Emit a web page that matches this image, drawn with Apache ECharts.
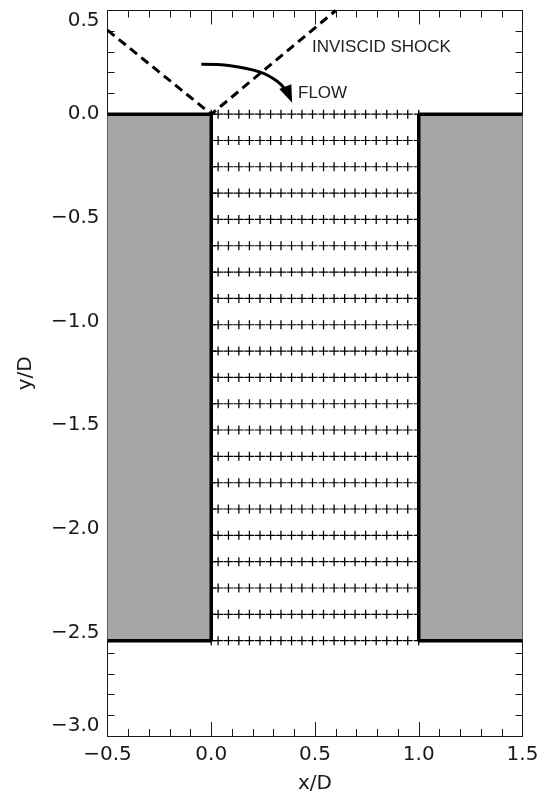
<!DOCTYPE html>
<html><head><meta charset="utf-8">
<style>html,body{margin:0;padding:0;background:#fff}#c{width:542px;height:793px}</style>
<script src="https://cdn.jsdelivr.net/npm/echarts@6/dist/echarts.min.js"></script>
</head><body><div id="c"></div>
<script>
const gridColumns = [0, 0.033, 0.083, 0.133, 0.184, 0.235, 0.286, 0.336, 0.387, 0.437, 0.488, 0.541, 0.592, 0.643, 0.693, 0.744, 0.795, 0.846, 0.897, 0.947, 1];
const gridRows = [0, -0.127, -0.254, -0.381, -0.508, -0.635, -0.762, -0.889, -1.016, -1.143, -1.27, -1.397, -1.524, -1.651, -1.778, -1.905, -2.032, -2.159, -2.286, -2.413, -2.54];
const leftWall = [[-0.5, 0], [0, 0], [0, -2.54], [-0.5, -2.54]];
const rightWall = [[1.5, 0], [1, 0], [1, -2.54], [1.5, -2.54]];
const greyBlocks = [[-0.5, 0, 0, -2.54], [1, 0, 1.5, -2.54]];
const shockLine = [[-0.5, 0.405], [0, 0], [0.6, 0.5]];
const flowCurve = [[-0.048, 0.241], [0.092, 0.234], [0.236, 0.203], [0.318, 0.159], [0.36, 0.115]];
const flowHead = [[0.39, 0.055], [0.328, 0.121], [0.386, 0.144]];
const xRange = [-0.5, 1.5];
const yRange = [-3, 0.5];
const xTitle = 'x/D', yTitle = 'y/D';

const font = 'DejaVu Sans';
const ink = '#1a1a1a';
const gridPoints = [];
gridRows.forEach(y => gridColumns.forEach(x => gridPoints.push([x, y])));

const tickBits = {
  axisLine: {show: true, onZero: false, lineStyle: {color: ink, width: 1}},
  axisTick: {show: true, inside: true, length: 14, lineStyle: {color: ink, width: 1}},
  minorTick: {show: true, splitNumber: 5, length: 7, lineStyle: {color: ink, width: 1}},
  splitLine: {show: false}, minorSplitLine: {show: false}
};
const labelBits = {fontFamily: font, fontSize: 20, color: ink, showMinLabel: true, showMaxLabel: true, hideOverlap: false,
  formatter: v => v.toFixed(1).replace('-', '\u2212')};
const xAxisBase = {type: 'value', min: xRange[0], max: xRange[1], interval: 0.5, ...tickBits};
const yAxisBase = {type: 'value', min: yRange[0], max: yRange[1], interval: 0.5, ...tickBits};

const chart = echarts.init(document.getElementById('c'), null, {renderer: 'canvas'});
chart.setOption({
  animation: false,
  backgroundColor: '#fff',
  grid: {left: 107.5, top: 10.5, width: 415, height: 725.5, outerBoundsMode: 'none', containLabel: false},
  xAxis: [
    {...xAxisBase, position: 'bottom', name: xTitle, nameLocation: 'middle', nameGap: 38,
     nameTextStyle: {fontFamily: font, fontSize: 20, color: ink},
     axisLabel: {...labelBits, margin: 9}},
    {...xAxisBase, position: 'top', axisLabel: {show: false}}
  ],
  yAxis: [
    {...yAxisBase, position: 'left', name: yTitle, nameLocation: 'middle', nameGap: 72,
     nameTextStyle: {fontFamily: font, fontSize: 20, color: ink},
     axisLabel: {...labelBits, margin: 8, verticalAlignMinLabel: 'bottom', verticalAlignMaxLabel: 'top'}},
    {...yAxisBase, position: 'right', axisLabel: {show: false}}
  ],
  series: [
    {type: 'scatter', z: 2, silent: true, data: gridPoints, symbolSize: [10, 9],
     symbol: 'path://M0 5H10M5 0V10',
     itemStyle: {color: 'none', borderColor: '#000', borderWidth: 1.2, opacity: 1}},
    {type: 'custom', coordinateSystem: 'cartesian2d', z: 3, silent: true, data: greyBlocks,
     encode: {x: [0, 2], y: [1, 3]},
     renderItem: (p, api) => {
       const a = api.coord([api.value(0), api.value(1)]), b = api.coord([api.value(2), api.value(3)]);
       return {type: 'rect', shape: {x: a[0], y: a[1], width: b[0] - a[0], height: b[1] - a[1]}, style: {fill: '#a6a6a6'}};
     }},
    ...[leftWall, rightWall].map(d => ({type: 'line', z: 4, silent: true, data: d, symbol: 'none', clip: false,
      lineStyle: {color: '#000', width: 3.5}})),
    {type: 'line', z: 4, silent: true, data: shockLine, symbol: 'none',
     lineStyle: {color: '#000', width: 3, type: [9, 5.5]}},
    {type: 'line', z: 4, silent: true, data: flowCurve, symbol: 'none', smooth: 0.4,
     lineStyle: {color: '#000', width: 3}},
    {type: 'custom', coordinateSystem: 'cartesian2d', z: 4, silent: true, data: [flowHead.flat()],
     encode: {x: [0, 2, 4], y: [1, 3, 5]},
     renderItem: (p, api) => {
       const pts = [0, 2, 4].map(i => api.coord([api.value(i), api.value(i + 1)]));
       return {type: 'polygon', shape: {points: pts}, style: {fill: '#000'}};
     }}
  ],
  graphic: [
    {type: 'text', left: 312, top: 39, style: {text: 'INVISCID SHOCK', font: '17px "Liberation Sans"', fill: '#222'}},
    {type: 'text', left: 298, top: 85, style: {text: 'FLOW', font: '17px "Liberation Sans"', fill: '#222'}}
  ]
});
</script></body></html>
